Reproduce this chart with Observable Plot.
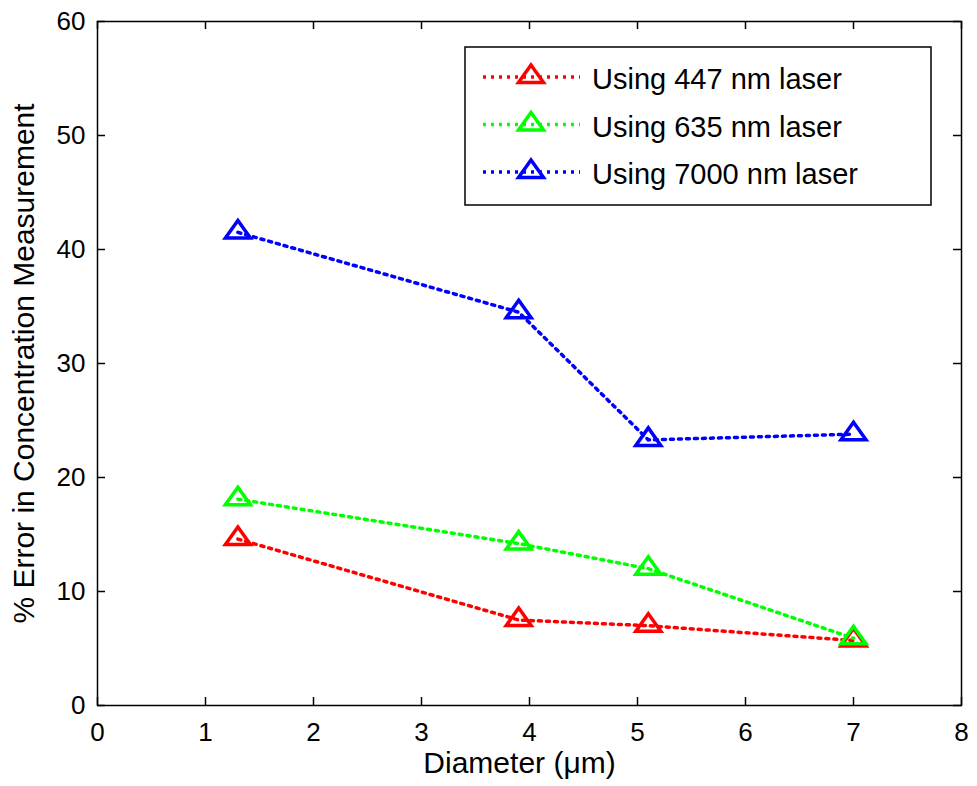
<!DOCTYPE html>
<html>
<head>
<meta charset="utf-8">
<script src="https://cdn.jsdelivr.net/npm/d3@7"></script>
<script src="https://cdn.jsdelivr.net/npm/@observablehq/plot@0.6"></script>
<style>
  html, body { margin: 0; padding: 0; background: #fff; }
  #wrap { position: relative; width: 977px; height: 786px; }
  #legend { position: absolute; left: 0; top: 0; }
</style>
</head>
<body>
<div id="wrap"></div>
<script>
// ---- data ----
const diameters = [1.3, 3.9, 5.1, 7.0];
const err447 = [14.6, 7.5, 7.0, 5.7];
const err635 = [18.1, 14.2, 12.0, 5.9];
const err7000 = [41.5, 34.5, 23.3, 23.8];
const seriesNames = ["Using 447 nm laser", "Using 635 nm laser", "Using 7000 nm laser"];
const seriesColors = ["#ff0000", "#00ff00", "#0000ff"];
const xTicks = [0, 1, 2, 3, 4, 5, 6, 7, 8];
const yTicks = [0, 10, 20, 30, 40, 50, 60];
const xLabel = "Diameter (\u03bcm)";
const yLabel = "% Error in Concentration Measurement";

const seriesValues = [err447, err635, err7000];
const rows = [];
seriesValues.forEach((vals, si) => {
  vals.forEach((v, i) => rows.push({series: seriesNames[si], x: diameters[i], y: v}));
});

// MATLAB-like triangle marker (wider than equilateral)
const matlabTriangle = {
  draw(context, size) {
    const k = Math.sqrt(size / Math.PI) / 10;
    context.moveTo(0, -12 * k);
    context.lineTo(12.5 * k, 5.5 * k);
    context.lineTo(-12.5 * k, 5.5 * k);
    context.closePath();
  }
};

const font = "'Liberation Sans', Arial, Helvetica, sans-serif";
const W = 977, H = 786, mL = 97, mR = 16, mT = 21, mB = 81;
const innerW = W - mL - mR, innerH = H - mT - mB, tick = 8;
const dash = "3,5";

const chart = Plot.plot({
  width: W,
  height: H,
  marginLeft: mL,
  marginRight: mR,
  marginTop: mT,
  marginBottom: mB,
  style: {fontFamily: font, fontSize: "26px", color: "black", background: "white"},
  x: {domain: [0, 8]},
  y: {domain: [0, 60]},
  color: {domain: seriesNames, range: seriesColors},
  marks: [
    Plot.axisX({ticks: xTicks, tickSize: 0, tickPadding: 17, label: null, fontSize: 26}),
    Plot.axisY({ticks: yTicks, tickSize: 0, tickPadding: 12, label: null, fontSize: 26}),
    // inward ticks on all four sides
    Plot.ruleX(xTicks, {x: d => d, insetTop: innerH - tick, stroke: "black", strokeWidth: 1.5}),
    Plot.ruleX(xTicks, {x: d => d, insetBottom: innerH - tick, stroke: "black", strokeWidth: 1.5}),
    Plot.ruleY(yTicks, {y: d => d, insetRight: innerW - tick, stroke: "black", strokeWidth: 1.5}),
    Plot.ruleY(yTicks, {y: d => d, insetLeft: innerW - tick, stroke: "black", strokeWidth: 1.5}),
    Plot.frame({stroke: "black", strokeWidth: 1.5}),
    Plot.line(rows, {x: "x", y: "y", z: "series", stroke: "series", strokeWidth: 3.5, strokeDasharray: dash}),
    Plot.dot(rows, {x: "x", y: "y", stroke: "series", symbol: matlabTriangle, r: 10, strokeWidth: 3.5, fill: "none"}),
    Plot.text([xLabel], {frameAnchor: "bottom", dx: -10, dy: 67, textAnchor: "middle", lineAnchor: "bottom", fontSize: 30, fill: "black"}),
    Plot.text([yLabel], {frameAnchor: "left", dx: -64, rotate: -90, textAnchor: "middle", lineAnchor: "bottom", fontSize: 30, fill: "black"})
  ]
});

const wrap = document.getElementById("wrap");
wrap.appendChild(chart);

// ---- legend overlay ----
const lg = d3.select(wrap).append("svg")
  .attr("id", "legend")
  .attr("width", W).attr("height", H)
  .style("pointer-events", "none");
const box = {x: 465, y: 47, w: 466, h: 158};
lg.append("rect").attr("x", box.x).attr("y", box.y).attr("width", box.w).attr("height", box.h)
  .attr("fill", "white").attr("stroke", "black").attr("stroke-width", 1.5);
const triPath = d3.path();
matlabTriangle.draw(triPath, 100 * Math.PI);
seriesNames.forEach((name, i) => {
  const cy = 77 + i * 47.5;
  lg.append("line").attr("x1", 483).attr("x2", 580).attr("y1", cy).attr("y2", cy)
    .attr("stroke", seriesColors[i]).attr("stroke-width", 3.5).attr("stroke-dasharray", dash);
  lg.append("path").attr("d", triPath.toString()).attr("transform", `translate(531,${cy})`)
    .attr("fill", "none").attr("stroke", seriesColors[i]).attr("stroke-width", 3.5);
  lg.append("text").attr("x", 592).attr("y", cy + 12).text(name)
    .attr("font-family", font).attr("font-size", 29).attr("fill", "black");
});
</script>
</body>
</html>
